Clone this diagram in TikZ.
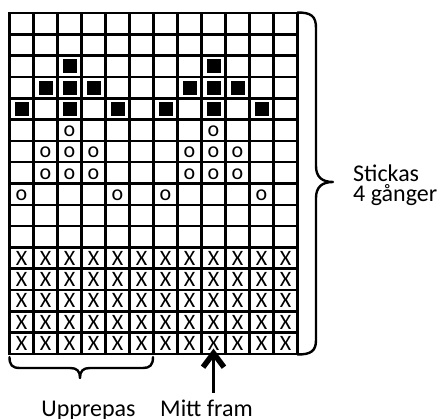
\documentclass[tikz,border=0pt]{standalone}
\usepackage{fontspec}
\setmainfont{Carlito}
\usetikzlibrary{arrows.meta}
\begin{document}
\begin{tikzpicture}[x=1pt,y=-1pt,
  gridline/.style={line width=2.6pt, line cap=rect},
  fillsq/.style={fill=black, draw=none, minimum size=14pt, inner sep=0pt},
  cellmark/.style={font=\fontsize{22}{22}\selectfont, inner sep=0pt},
  lbl/.style={font=\fontsize{24}{20}\selectfont, inner sep=0pt},
  bracepath/.style={line width=2.4pt, line cap=round, line join=round},
  mittarrow/.style={line width=2.6pt, -{Straight Barb[length=14pt,width=21pt,line width=5.5pt]}},
  ]
\useasboundingbox (0,0) rectangle (439,419);
% grid
\foreach \i in {0,...,12} \draw[gridline] ({9.5+\i*24},13) -- ({9.5+\i*24},354);
\foreach \j in {0,...,16} \draw[gridline] (9.5,{13+\j*21.3125}) -- (297.5,{13+\j*21.3125});
% filled squares
\foreach \r/\c in {3/3,3/9,4/2,4/3,4/4,4/8,4/9,4/10,5/1,5/3,5/5,5/7,5/9,5/11}
  \node[fillsq] (s\r-\c) at ({9.5+(\c-0.5)*24},{13+(\r-0.5)*21.3125}) {};
% o marks
\foreach \r/\c in {6/3,6/9,7/2,7/3,7/4,7/8,7/9,7/10,8/2,8/3,8/4,8/8,8/9,8/10,9/1,9/5,9/7,9/11}
  \node[cellmark] (o\r-\c) at ({9.5+(\c-0.5)*24},{13+(\r-0.5)*21.3125+1}) {o};
% X marks
\foreach \r in {12,...,16}
  \foreach \c in {1,...,12}
    \node[cellmark] (x\r-\c) at ({9.5+(\c-0.5)*24},{13+(\r-0.5)*21.3125}) {X};
% right brace
\draw[bracepath] (297.5,12.5) .. controls (311,12.5) and (316,16) .. (316,28)
  -- (316,166) .. controls (316,177) and (322,182) .. (333,182)
  .. controls (322,182) and (316,187) .. (316,198)
  -- (316,340) .. controls (316,351) and (311,354.5) .. (297.5,354.5);
% bottom brace
\draw[bracepath] (9.5,357) .. controls (9.5,365) and (12,368) .. (20,368)
  -- (70,368) .. controls (77,368) and (80,371) .. (80,378)
  .. controls (80,371) and (83,368) .. (90,368)
  -- (143,368) .. controls (150,368) and (153,365) .. (153,357);
% arrow
\coordinate (mitttail) at (213.5,393);
\draw[mittarrow, shorten >=-2pt] (mitttail) -- (x16-9.south);
% labels
\node[lbl, anchor=base west, text depth=0pt] (stickas) at (353,182) {Stickas};
\node[lbl, anchor=base west, text height=15pt] (ganger) at (353,202) {4 gånger};
\node[lbl, anchor=base] (upprepas) at (88.5,416.5) {Upprepas};
\node[lbl, anchor=base] (mittfram) at (206.5,416.5) {Mitt fram};
\end{tikzpicture}
\end{document}
